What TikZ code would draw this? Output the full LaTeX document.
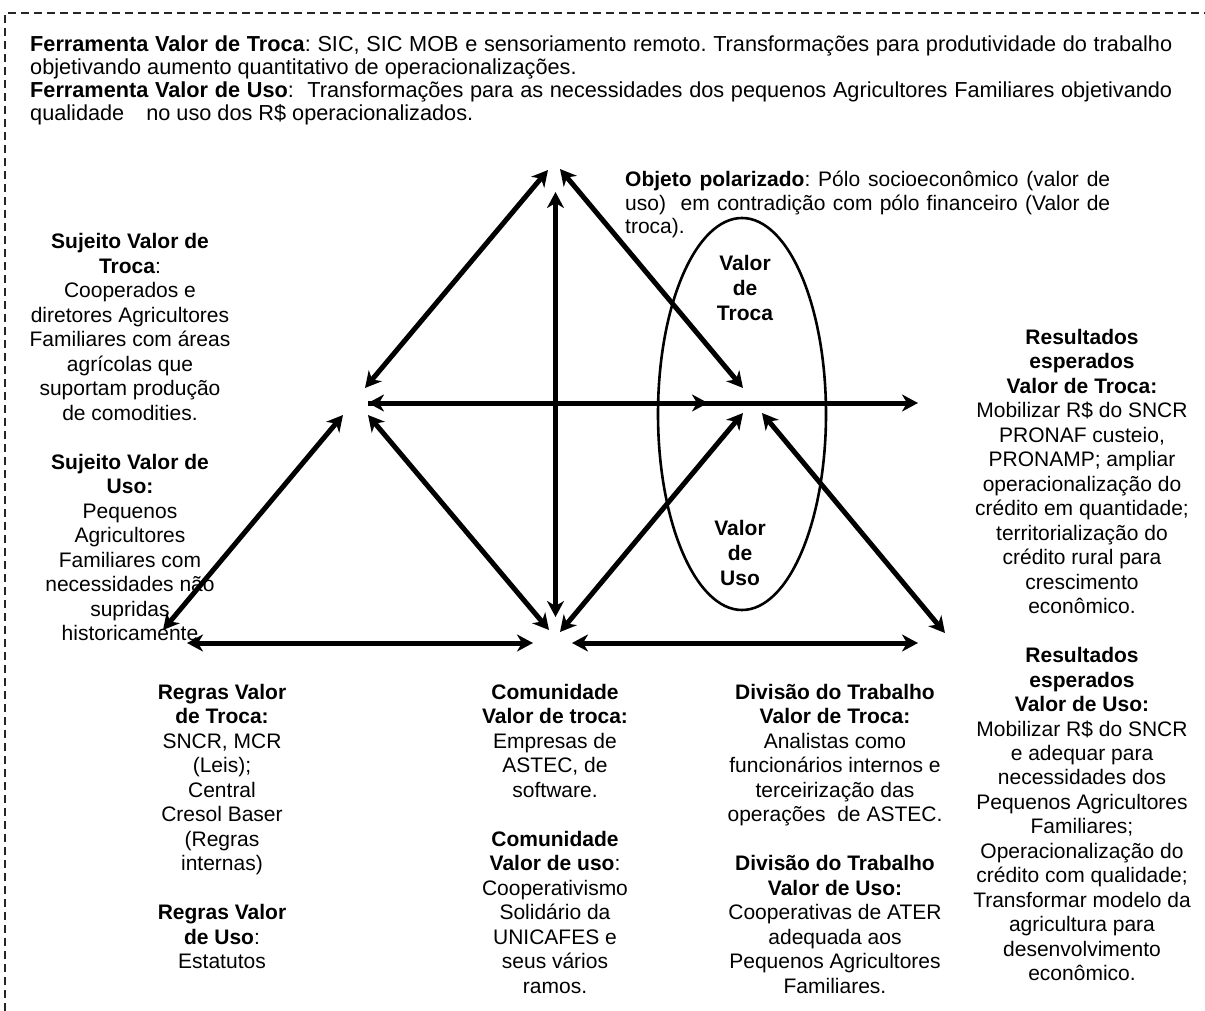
\documentclass[tikz,border=0pt]{standalone}
\usepackage{fontspec}
\setmainfont{Liberation Sans}
\usetikzlibrary{arrows.meta,shapes.geometric}
\frenchspacing

% centred text column, first baseline at the node's base anchor
\newcommand{\colblock}[1]{\parbox[t]{420pt}{\fontsize{21}{24.5}\selectfont\centering #1}}

\begin{document}
\begin{tikzpicture}[x=1pt,y=-1pt,
  >={Stealth[length=16pt,width=17pt,inset=5pt]},
  link/.style={line width=5pt,<->},
  halflink/.style={line width=5pt,->},
  frame/.style={line width=1.3pt,dash pattern=on 8pt off 5pt,black!85},
  txt/.style={inner sep=0pt,anchor=base},
  pole/.style={draw,ellipse,line width=2.6pt,minimum width=168pt,minimum height=392pt,inner sep=0pt},
  polelabel/.style={inner sep=0pt,anchor=base,align=center,font=\fontsize{21}{25}\selectfont\bfseries}]

\useasboundingbox (0,0) rectangle (1205,1011);

% dashed frame (top and left edges)
\draw[frame] (5,1011) -- (5,13) -- (1205,13);

% header text
\node[txt,anchor=base west] (tool) at (30,52) {\parbox[t]{1142pt}{\fontsize{21.7}{23}\selectfont
\textbf{Ferramenta Valor de Troca}: SIC, SIC MOB e sensoriamento remoto. Transformações para produtividade do trabalho\linebreak
objetivando aumento quantitativo de operacionalizações.\newline
\textbf{Ferramenta Valor de Uso}:\ \ Transformações para as necessidades dos pequenos Agricultores Familiares objetivando\linebreak
qualidade\hspace{22pt}no uso dos R\$ operacionalizados.}};

% polarized object
\node[txt,anchor=base west] (object) at (625,187) {\parbox[t]{485pt}{\fontsize{21}{23.5}\selectfont
\textbf{Objeto polarizado}: Pólo socioeconômico (valor de\linebreak
uso)\ \ em contradição com pólo financeiro (Valor de\linebreak
troca).}};

\node[pole] (ell) at (742,414) {};
% base anchor of these labels sits on their last line
\node[polelabel] (troca) at (745,320) {Valor\\de\\Troca};
\node[polelabel] (uso) at (740,585) {Valor\\de\\Uso};

% text columns
\node[txt] (subject) at (130,249) {\colblock{%
\textbf{Sujeito Valor de}\\ \textbf{Troca}:\\ Cooperados e\\ diretores Agricultores\\
Familiares com áreas\\ agrícolas que\\ suportam produção\\ de comodities.\\[24.5pt]
\textbf{Sujeito Valor de}\\ \textbf{Uso:}\\ Pequenos\\ Agricultores\\ Familiares com\\
necessidades não\\ supridas\\ historicamente}};

\node[txt] (rules) at (222,699) {\colblock{%
\textbf{Regras Valor}\\ \textbf{de Troca:}\\ SNCR, MCR\\ (Leis);\\ Central\\ Cresol Baser\\
(Regras\\ internas)\\[24.5pt]
\textbf{Regras Valor}\\ \textbf{de Uso}:\\ Estatutos}};

\node[txt] (community) at (555,699) {\colblock{%
\textbf{Comunidade}\\ \textbf{Valor de troca:}\\ Empresas de\\ ASTEC, de\\ software.\\[24.5pt]
\textbf{Comunidade}\\ \textbf{Valor de uso}:\\ Cooperativismo\\ Solidário da\\ UNICAFES e\\
seus vários\\ ramos.}};

\node[txt] (division) at (835,699) {\colblock{%
\textbf{Divisão do Trabalho}\\ \textbf{Valor de Troca:}\\ Analistas como\\ funcionários internos e\\
terceirização das\\ operações\ \ de ASTEC.\\[24.5pt]
\textbf{Divisão do Trabalho}\\ \textbf{Valor de Uso:}\\ Cooperativas de ATER\\ adequada aos\\
Pequenos Agricultores\\ Familiares.}};

\node[txt] (results) at (1082,344) {\colblock{%
\textbf{Resultados}\\ \textbf{esperados}\\ \textbf{Valor de Troca:}\\ Mobilizar R\$ do SNCR\\
PRONAF custeio,\\ PRONAMP; ampliar\\ operacionalização do\\ crédito em quantidade;\\
territorialização do\\ crédito rural para\\ crescimento\\ econômico.\\[24.5pt]
\textbf{Resultados}\\ \textbf{esperados}\\ \textbf{Valor de Uso:}\\ Mobilizar R\$ do SNCR\\
e adequar para\\ necessidades dos\\ Pequenos Agricultores\\ Familiares;\\
Operacionalização do\\ crédito com qualidade;\\ Transformar modelo da\\ agricultura para\\
desenvolvimento\\ econômico.}};

% arrow end points around the vertices
\coordinate (T-l) at (548,170);
\coordinate (T-m) at (555.5,192);
\coordinate (T-r) at (560,169);
\coordinate (L-t) at (365,388);
\coordinate (L-m) at (368,403);
\coordinate (L-b) at (368,415);
\coordinate (L-bl) at (343,415);
\coordinate (C-t) at (743,388);
\coordinate (C-m) at (708,403);
\coordinate (C-bl) at (743,413);
\coordinate (C-br) at (762,413);
\coordinate (R-m) at (918,403);
\coordinate (B-t) at (555.5,617);
\coordinate (B-l) at (549,630);
\coordinate (B-r) at (560,632);
\coordinate (B-bl) at (533,643);
\coordinate (B-br) at (572,643);
\coordinate (BL-t) at (163,630);
\coordinate (BL-r) at (187,643);
\coordinate (BR-t) at (945,633);
\coordinate (BR-l) at (918,643);

% connectors
\draw[link] (T-l) -- (L-t);
\draw[link] (T-m) -- (B-t);
\draw[link] (T-r) -- (C-t);
\draw[link] (L-m) -- (R-m);
\draw[halflink] (L-m) -- (C-m);
\draw[link] (L-b) -- (B-l);
\draw[link] (BL-t) -- (L-bl);
\draw[link] (B-r) -- (C-bl);
\draw[link] (C-br) -- (BR-t);
\draw[link] (BL-r) -- (B-bl);
\draw[link] (B-br) -- (BR-l);
\end{tikzpicture}
\end{document}
